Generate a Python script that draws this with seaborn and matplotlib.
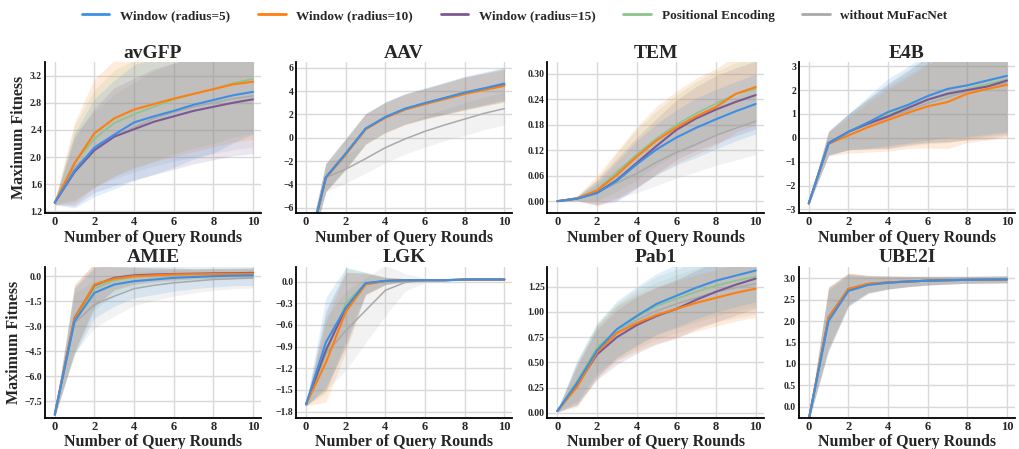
import numpy as np
import pandas as pd
import matplotlib
matplotlib.use("Agg")
import matplotlib.pyplot as plt
from matplotlib.ticker import MultipleLocator
from matplotlib.lines import Line2D
import seaborn as sns

ROUNDS = list(range(11))
SERIES = ["Window (radius=5)", "Window (radius=10)", "Window (radius=15)",
          "Positional Encoding", "without MuFacNet"]
COLORS = ["#3d8fe3", "#ff7f0e", "#7c5894", "#8cc48c", "#a9a9a9"]
DATASETS = ["avGFP", "AAV", "TEM", "E4B", "AMIE", "LGK", "Pab1", "UBE2I"]

# means (order: w5, w10, w15, PE, without)
AVGFP_MEAN = [
    [1.33, 1.80, 2.14, 2.33, 2.51, 2.60, 2.68, 2.77, 2.84, 2.91, 2.96],
    [1.33, 1.91, 2.35, 2.57, 2.70, 2.78, 2.86, 2.93, 3.00, 3.07, 3.11],
    [1.33, 1.78, 2.10, 2.30, 2.41, 2.52, 2.60, 2.68, 2.74, 2.80, 2.85],
    [1.33, 1.92, 2.27, 2.50, 2.63, 2.74, 2.85, 2.93, 3.00, 3.09, 3.15],
    [1.33, 1.85, 2.12, 2.30, 2.44, 2.57, 2.66, 2.74, 2.80, 2.86, 2.90]]
AVGFP_SD = [
    [0.03, 0.55, 0.72, 0.80, 0.85, 0.85, 0.83, 0.80, 0.78, 0.70, 0.62],
    [0.03, 0.60, 0.80, 0.85, 0.85, 0.85, 0.85, 0.85, 0.85, 0.85, 0.85],
    [0.03, 0.50, 0.62, 0.72, 0.75, 0.78, 0.78, 0.78, 0.78, 0.78, 0.80],
    [0.03, 0.55, 0.72, 0.78, 0.80, 0.80, 0.80, 0.80, 0.80, 0.80, 0.80],
    [0.03, 0.50, 0.55, 0.62, 0.66, 0.70, 0.72, 0.74, 0.75, 0.75, 0.75]]

AAV_MEAN = [
    [-10.3, -3.40, -1.35, 0.78, 1.78, 2.50, 2.98, 3.42, 3.88, 4.25, 4.65],
    [-10.3, -3.45, -1.45, 0.72, 1.72, 2.42, 2.88, 3.32, 3.75, 4.10, 4.45],
    [-10.3, -3.40, -1.40, 0.75, 1.75, 2.46, 2.93, 3.37, 3.82, 4.18, 4.55],
    [-10.3, -3.40, -1.40, 0.75, 1.74, 2.45, 2.92, 3.36, 3.80, 4.15, 4.50],
    [-10.3, -3.40, -2.70, -1.80, -0.85, -0.10, 0.55, 1.10, 1.60, 2.10, 2.50]]
AAV_SD = [
    [0.5, 1.2, 1.3, 1.3, 1.3, 1.3, 1.3, 1.35, 1.4, 1.4, 1.4],
    [0.5, 1.2, 1.3, 1.3, 1.3, 1.3, 1.3, 1.35, 1.4, 1.4, 1.4],
    [0.5, 1.2, 1.3, 1.3, 1.3, 1.3, 1.3, 1.35, 1.4, 1.4, 1.4],
    [0.5, 1.2, 1.3, 1.3, 1.3, 1.3, 1.3, 1.35, 1.4, 1.4, 1.4],
    [0.5, 1.2, 1.2, 1.25, 1.3, 1.3, 1.35, 1.35, 1.4, 1.4, 1.4]]

TEM_MEAN = [
    [0.0, 0.006, 0.019, 0.048, 0.087, 0.122, 0.150, 0.173, 0.193, 0.212, 0.229],
    [0.0, 0.007, 0.025, 0.062, 0.105, 0.143, 0.174, 0.200, 0.222, 0.253, 0.269],
    [0.0, 0.006, 0.020, 0.050, 0.090, 0.130, 0.168, 0.195, 0.216, 0.234, 0.250],
    [0.0, 0.007, 0.027, 0.068, 0.110, 0.148, 0.180, 0.207, 0.230, 0.252, 0.265],
    [0.0, 0.006, 0.020, 0.043, 0.065, 0.092, 0.115, 0.134, 0.155, 0.172, 0.188]]
TEM_SD = [
    [0.001, 0.005, 0.025, 0.045, 0.055, 0.060, 0.065, 0.070, 0.070, 0.070, 0.070],
    [0.001, 0.006, 0.035, 0.055, 0.070, 0.080, 0.085, 0.090, 0.090, 0.090, 0.090],
    [0.001, 0.005, 0.030, 0.050, 0.060, 0.065, 0.070, 0.075, 0.080, 0.080, 0.080],
    [0.001, 0.005, 0.025, 0.045, 0.060, 0.065, 0.070, 0.075, 0.075, 0.075, 0.075],
    [0.001, 0.005, 0.020, 0.035, 0.045, 0.055, 0.060, 0.065, 0.070, 0.075, 0.078]]

E4B_MEAN = [
    [-2.75, -0.25, 0.25, 0.65, 1.08, 1.38, 1.75, 2.05, 2.20, 2.40, 2.60],
    [-2.75, -0.25, 0.10, 0.45, 0.75, 1.05, 1.32, 1.50, 1.85, 2.05, 2.22],
    [-2.75, -0.22, 0.25, 0.60, 0.90, 1.25, 1.60, 1.85, 2.00, 2.15, 2.40],
    [-2.75, -0.22, 0.25, 0.60, 0.95, 1.30, 1.60, 1.80, 2.05, 2.25, 2.45],
    [-2.75, -0.20, 0.25, 0.55, 0.85, 1.15, 1.45, 1.70, 1.95, 2.15, 2.30]]
E4B_SD = [
    [0.05, 0.50, 0.75, 1.10, 1.40, 1.60, 1.85, 2.05, 2.15, 2.25, 2.35],
    [0.05, 0.50, 0.75, 1.05, 1.30, 1.50, 1.75, 1.95, 2.05, 2.15, 2.20],
    [0.05, 0.50, 0.75, 1.05, 1.35, 1.55, 1.80, 2.00, 2.10, 2.20, 2.30],
    [0.05, 0.50, 0.75, 1.05, 1.35, 1.55, 1.80, 2.00, 2.10, 2.20, 2.30],
    [0.05, 0.50, 0.75, 1.05, 1.30, 1.50, 1.70, 1.90, 2.00, 2.05, 2.10]]

AMIE_MEAN = [
    [-8.3, -2.70, -1.00, -0.50, -0.30, -0.20, -0.10, -0.05, 0.00, 0.03, 0.05],
    [-8.3, -2.55, -0.50, -0.15, 0.00, 0.05, 0.10, 0.12, 0.13, 0.14, 0.15],
    [-8.3, -2.50, -0.55, -0.10, 0.05, 0.10, 0.13, 0.15, 0.17, 0.18, 0.20],
    [-8.3, -2.70, -0.75, -0.25, -0.05, 0.05, 0.08, 0.10, 0.12, 0.14, 0.15],
    [-8.3, -2.80, -1.70, -1.20, -0.75, -0.55, -0.40, -0.30, -0.20, -0.15, -0.10]]
AMIE_SD = [
    [0.1, 2.0, 1.5, 1.3, 1.0, 0.9, 0.8, 0.7, 0.65, 0.6, 0.6],
    [0.1, 2.0, 1.3, 0.7, 0.5, 0.4, 0.35, 0.3, 0.3, 0.3, 0.3],
    [0.1, 2.0, 1.3, 0.7, 0.5, 0.4, 0.35, 0.3, 0.3, 0.3, 0.3],
    [0.1, 2.0, 1.3, 0.8, 0.6, 0.5, 0.4, 0.35, 0.3, 0.3, 0.3],
    [0.1, 1.8, 1.4, 1.2, 1.0, 0.9, 0.8, 0.7, 0.65, 0.6, 0.6]]

LGK_MEAN = [
    [-1.70, -0.84, -0.36, -0.02, 0.01, 0.02, 0.02, 0.02, 0.03, 0.03, 0.03],
    [-1.70, -1.12, -0.42, -0.04, 0.01, 0.02, 0.02, 0.02, 0.03, 0.03, 0.03],
    [-1.70, -0.95, -0.37, -0.03, 0.01, 0.02, 0.02, 0.02, 0.03, 0.03, 0.03],
    [-1.70, -1.00, -0.30, -0.02, 0.01, 0.02, 0.02, 0.02, 0.03, 0.03, 0.03],
    [-1.70, -1.00, -0.68, -0.40, -0.12, -0.01, 0.02, 0.02, 0.03, 0.03, 0.03]]
LGK_SD = [
    [0.02, 0.62, 0.55, 0.15, 0.05, 0.02, 0.01, 0.01, 0.01, 0.01, 0.01],
    [0.02, 0.55, 0.55, 0.15, 0.05, 0.02, 0.01, 0.01, 0.01, 0.01, 0.01],
    [0.02, 0.55, 0.50, 0.15, 0.05, 0.02, 0.01, 0.01, 0.01, 0.01, 0.01],
    [0.02, 0.55, 0.50, 0.15, 0.05, 0.02, 0.01, 0.01, 0.01, 0.01, 0.01],
    [0.02, 0.50, 0.55, 0.45, 0.35, 0.12, 0.03, 0.01, 0.01, 0.01, 0.01]]

PAB1_MEAN = [
    [0.02, 0.30, 0.62, 0.83, 0.96, 1.08, 1.16, 1.24, 1.31, 1.36, 1.41],
    [0.02, 0.26, 0.60, 0.79, 0.89, 0.97, 1.03, 1.09, 1.14, 1.19, 1.23],
    [0.02, 0.28, 0.58, 0.75, 0.87, 0.96, 1.03, 1.12, 1.20, 1.27, 1.33],
    [0.02, 0.32, 0.65, 0.82, 0.95, 1.06, 1.13, 1.20, 1.26, 1.31, 1.35],
    [0.02, 0.30, 0.62, 0.80, 0.92, 1.01, 1.08, 1.14, 1.20, 1.24, 1.28]]
PAB1_SD = [
    [0.01, 0.22, 0.26, 0.28, 0.29, 0.30, 0.31, 0.31, 0.31, 0.31, 0.31],
    [0.01, 0.20, 0.26, 0.27, 0.28, 0.28, 0.28, 0.28, 0.28, 0.28, 0.28],
    [0.01, 0.20, 0.25, 0.27, 0.28, 0.28, 0.29, 0.29, 0.30, 0.30, 0.30],
    [0.01, 0.20, 0.25, 0.27, 0.28, 0.29, 0.29, 0.30, 0.30, 0.30, 0.30],
    [0.01, 0.20, 0.25, 0.27, 0.28, 0.28, 0.29, 0.29, 0.30, 0.30, 0.30]]

UBE2I_MEAN = [
    [-0.3, 2.00, 2.70, 2.84, 2.89, 2.92, 2.94, 2.95, 2.96, 2.965, 2.97],
    [-0.3, 2.07, 2.75, 2.87, 2.90, 2.92, 2.94, 2.95, 2.96, 2.965, 2.97],
    [-0.3, 2.08, 2.74, 2.86, 2.90, 2.92, 2.94, 2.95, 2.96, 2.965, 2.97],
    [-0.3, 2.05, 2.73, 2.86, 2.90, 2.92, 2.94, 2.95, 2.96, 2.965, 2.97],
    [-0.3, 2.05, 2.72, 2.85, 2.89, 2.92, 2.94, 2.95, 2.96, 2.965, 2.97]]
UBE2I_SD = [
    [0.02, 0.72, 0.37, 0.20, 0.15, 0.12, 0.10, 0.09, 0.08, 0.08, 0.08],
    [0.02, 0.72, 0.37, 0.20, 0.15, 0.12, 0.10, 0.09, 0.08, 0.08, 0.08],
    [0.02, 0.72, 0.37, 0.20, 0.15, 0.12, 0.10, 0.09, 0.08, 0.08, 0.08],
    [0.02, 0.72, 0.37, 0.20, 0.15, 0.12, 0.10, 0.09, 0.08, 0.08, 0.08],
    [0.02, 0.72, 0.37, 0.20, 0.15, 0.12, 0.10, 0.09, 0.08, 0.08, 0.08]]

MEANS = [AVGFP_MEAN, AAV_MEAN, TEM_MEAN, E4B_MEAN, AMIE_MEAN, LGK_MEAN, PAB1_MEAN, UBE2I_MEAN]
SDS = [AVGFP_SD, AAV_SD, TEM_SD, E4B_SD, AMIE_SD, LGK_SD, PAB1_SD, UBE2I_SD]
YLIMS = [(1.17, 3.40), (-6.5, 6.5), (-0.029, 0.328), (-3.17, 3.18),
         (-8.5, 0.58), (-1.89, 0.21), (-0.05, 1.45), (-0.26, 3.27)]
YSTEPS = [0.4, 2, 0.06, 1, 1.5, 0.3, 0.25, 0.5]

sns.set_theme(style="whitegrid")
plt.rcParams["font.family"] = ["Liberation Serif", "DejaVu Serif"]
plt.rcParams["font.weight"] = "bold"

fig, axes = plt.subplots(2, 4, figsize=(10.19, 4.49), dpi=100)
fig.subplots_adjust(left=0.044, right=0.996, bottom=0.069, top=0.862,
                    hspace=0.35, wspace=0.163)

draw_order = [4, 3, 2, 1, 0]
widths = {0: 1.5, 1: 1.5, 2: 1.5, 3: 1.2, 4: 1.1}
for k, ax in enumerate(axes.flat):
    for s in draw_order:
        m = np.array(MEANS[k][s])
        sd = np.array(SDS[k][s])
        ax.fill_between(ROUNDS, m - sd, m + sd, color=COLORS[s], alpha=0.15, lw=0)
    for s in draw_order:
        sns.lineplot(x=ROUNDS, y=MEANS[k][s], color=COLORS[s], lw=widths[s], ax=ax)
    ax.set_xlim(-0.5, 10.4)
    ax.set_ylim(*YLIMS[k])
    ax.xaxis.set_major_locator(MultipleLocator(2))
    ax.yaxis.set_major_locator(MultipleLocator(YSTEPS[k]))
    ax.set_title(DATASETS[k], fontsize=14, fontweight="bold", pad=3)
    ax.set_xlabel("Number of Query Rounds", fontsize=11.5, fontweight="bold", labelpad=1)
    if k % 4 == 0:
        ax.set_ylabel("Maximum Fitness", fontsize=11.5, fontweight="bold", labelpad=2)
    else:
        ax.set_ylabel("")
    ax.tick_params(axis="both", which="both", length=0, pad=2)
    for lab in ax.get_xticklabels():
        lab.set_fontsize(9)
        lab.set_fontweight("bold")
    for lab in ax.get_yticklabels():
        lab.set_fontsize(7)
        lab.set_fontweight("bold")
    ax.grid(True, color="#d9d9d9", lw=1.0)
    for side in ["top", "right"]:
        ax.spines[side].set_visible(False)
    for side in ["left", "bottom"]:
        ax.spines[side].set_color("black")
        ax.spines[side].set_linewidth(1.3)

handles = [Line2D([0], [0], color=c, lw=2) for c in COLORS]
fig.legend(handles, SERIES, loc="upper center", ncol=5, frameon=False,
           bbox_to_anchor=(0.505, 1.005), prop={"size": 9.5, "weight": "bold"},
           handlelength=2.1, handletextpad=0.8, columnspacing=2.1)

fig.savefig("out.png", dpi=100)
